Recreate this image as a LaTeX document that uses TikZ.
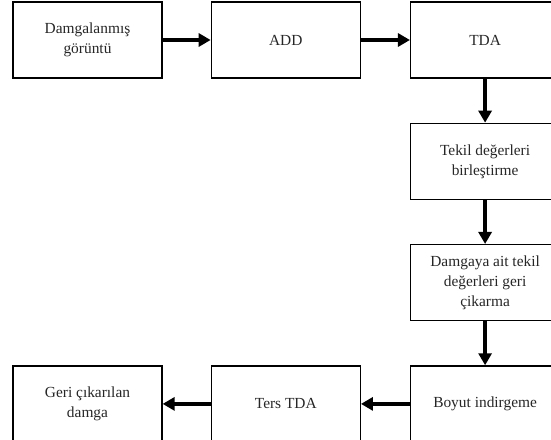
\documentclass[tikz,border=0pt]{standalone}
\usepackage{fontspec}
\setmainfont{LiberationSerif}[Extension=.ttf, UprightFont=*-Regular, BoldFont=*-Bold]
\usetikzlibrary{positioning, arrows.meta}

\begin{document}
\begin{tikzpicture}[x=1pt, y=1pt, box/.style={draw, line width=1.3pt, minimum width=149pt, minimum height=76pt, inner sep=2pt, align=center, text=black!85, font=\rmfamily\fontsize{15.4}{20}\selectfont}, arr/.style={line width=4pt, -{Triangle[length=12pt, width=13pt]}}, node distance=44pt and 48pt]
\useasboundingbox (0,0) rectangle (551,-439);

\node[box] (damgali) at (87.5,-40) {Damgalanmış\\görüntü};
\node[box, right=of damgali] (add) {ADD};
\node[box, right=49pt of add] (tda) {TDA};
\node[box, below=of tda] (tekil) {Tekil değerleri\\birleştirme};
\node[box, below=of tekil] (geri) {Damgaya ait tekil\\değerleri geri\\çikarma};
\node[box, below=of geri] (boyut) {Boyut indirgeme};
\node[box, left=49pt of boyut] (terstda) {Ters TDA};
\node[box, left=of terstda] (damga) {Geri çıkarılan\\damga};

\draw[arr] (damgali) -- (add);
\draw[arr] (add) -- (tda);
\draw[arr] (tda) -- (tekil);
\draw[arr] (tekil) -- (geri);
\draw[arr] (geri) -- (boyut);
\draw[arr] (boyut) -- (terstda);
\draw[arr] (terstda) -- (damga);

\end{tikzpicture}
\end{document}
